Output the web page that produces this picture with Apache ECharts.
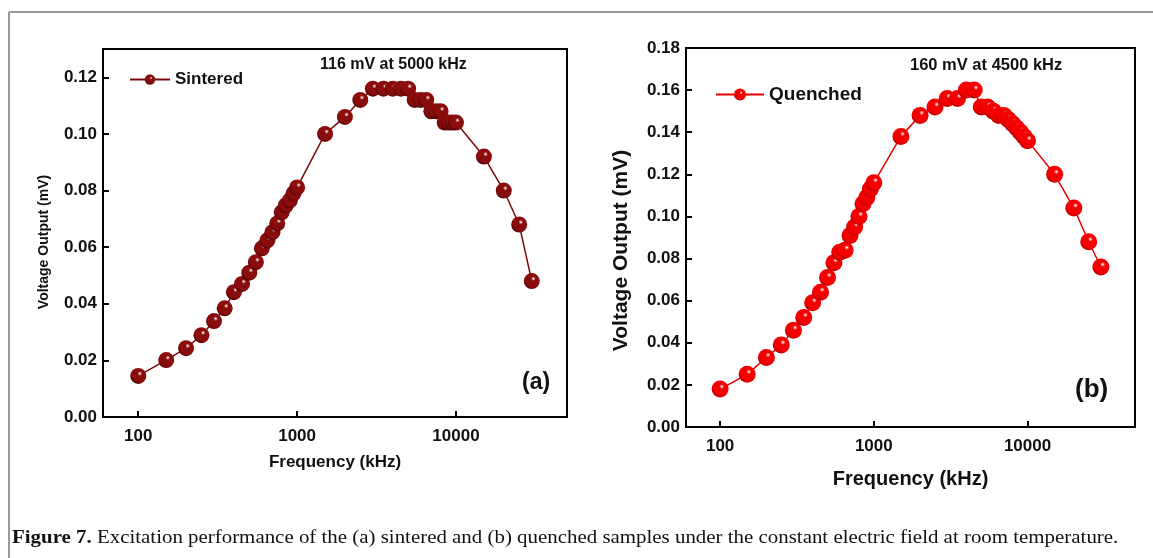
<!DOCTYPE html>
<html>
<head>
<meta charset="utf-8">
<script src="https://cdn.jsdelivr.net/npm/echarts@6/dist/echarts.min.js"></script>
<style>
html,body{margin:0;padding:0;background:#fff;}
#chart{width:1153px;height:558px;}
</style>
</head>
<body>
<div id="chart"></div>
<script>
const freq = [100,150,200,250,300,350,400,450,500,550,600,650,700,750,800,850,900,950,1000,1500,2000,2500,3000,3500,4000,4500,5000,5500,6000,6500,7000,7500,8000,8500,9000,9500,10000,15000,20000,25000,30000];
const sintered = [0.0145,0.0201,0.0243,0.0289,0.0339,0.0384,0.0441,0.047,0.051,0.0547,0.0596,0.0624,0.0653,0.0684,0.0723,0.0748,0.0765,0.079,0.0811,0.100,0.106,0.112,0.116,0.116,0.116,0.116,0.116,0.112,0.112,0.112,0.108,0.108,0.108,0.104,0.104,0.104,0.104,0.092,0.080,0.068,0.048];
const quenched = [0.018,0.025,0.033,0.039,0.046,0.052,0.059,0.064,0.071,0.078,0.083,0.084,0.091,0.095,0.100,0.106,0.109,0.113,0.116,0.138,0.148,0.152,0.156,0.156,0.160,0.160,0.152,0.152,0.150,0.148,0.148,0.146,0.144,0.142,0.140,0.138,0.136,0.120,0.104,0.088,0.076];
const yTicksA = [0, 0.02, 0.04, 0.06, 0.08, 0.10, 0.12];
const yTicksB = [0, 0.02, 0.04, 0.06, 0.08, 0.10, 0.12, 0.14, 0.16, 0.18];
const xTicks = [100, 1000, 10000];
const names = ['Sintered', 'Quenched'];
const peakLabels = ['116 mV at 5000 kHz', '160 mV at 4500 kHz'];
const panelLabels = ['(a)', '(b)'];
const caption = 'Excitation performance of the (a) sintered and (b) quenched samples under the constant electric field at room temperature.';

const chart = echarts.init(document.getElementById('chart'));
const FONT = 'Liberation Sans, Arial, sans-serif';
const SERIF = 'Liberation Serif, Times New Roman, serif';

function sphere(base, dark) {
  return new echarts.graphic.RadialGradient(0.6, 0.35, 0.72, [
    {offset: 0, color: '#ffffff'},
    {offset: 0.2, color: base},
    {offset: 0.7, color: base},
    {offset: 1, color: dark}
  ]);
}

function xAxisDef(idx, labelSize, nameSize, nameGap) {
  return {
    type: 'log', logBase: 10, gridIndex: idx, min: 60, max: 50000,
    name: 'Frequency (kHz)', nameLocation: 'middle', nameGap: nameGap,
    nameTextStyle: {fontFamily: FONT, fontWeight: 'bold', fontSize: nameSize, color: '#111'},
    axisLine: {lineStyle: {color: '#000', width: 2}},
    axisTick: {inside: true, length: 6, lineStyle: {color: '#000', width: 2}},
    minorTick: {show: false},
    splitLine: {show: false},
    axisLabel: {
      fontFamily: FONT, fontWeight: 'bold', fontSize: labelSize, color: '#111', margin: 11,
      showMinLabel: false, showMaxLabel: false,
      formatter: v => xTicks.some(t => Math.abs(t - v) < 1e-6 * t) ? String(Math.round(v)) : ''
    }
  };
}
function yAxisDef(idx, max, ticks, labelSize, nameSize, nameGap, shift) {
  return {
    type: 'value', gridIndex: idx, min: 0, max: max, interval: 0.02,
    name: 'Voltage Output (mV)', nameLocation: 'middle', nameGap: nameGap,
    nameTextStyle: {fontFamily: FONT, fontWeight: 'bold', fontSize: nameSize, color: '#111', padding: [0, shift, 0, 0]},
    axisLine: {show: true, lineStyle: {color: '#000', width: 2}},
    axisTick: {show: true, inside: true, length: 6, lineStyle: {color: '#000', width: 2}},
    splitLine: {show: false},
    axisLabel: {
      fontFamily: FONT, fontWeight: 'bold', fontSize: labelSize, color: '#111', margin: 6,
      formatter: v => ticks.some(t => Math.abs(t - v) < 1e-9) ? v.toFixed(2) : ''
    }
  };
}

const option = {
  animation: false,
  backgroundColor: '#fff',
  grid: [
    {left: 103, right: 586, top: 49, bottom: 141, show: true, borderColor: '#000', borderWidth: 2, containLabel: false},
    {left: 686, right: 18, top: 48, bottom: 131, show: true, borderColor: '#000', borderWidth: 2, containLabel: false}
  ],
  xAxis: [xAxisDef(0, 17, 17, 37), xAxisDef(1, 17, 20, 42)],
  yAxis: [yAxisDef(0, 0.13, yTicksA, 17, 14, 52, 18), yAxisDef(1, 0.18, yTicksB, 17, 21, 54, 26)],
  legend: [
    {data: [names[0]], left: 124, top: 66, itemWidth: 40, itemHeight: 13, itemGap: 6,
     textStyle: {fontFamily: FONT, fontWeight: 'bold', fontSize: 17, color: '#111'}},
    {data: [names[1]], left: 710, top: 80, itemWidth: 48, itemHeight: 15, itemGap: 6,
     textStyle: {fontFamily: FONT, fontWeight: 'bold', fontSize: 19, color: '#111'}}
  ],
  series: [
    {
      name: names[0], type: 'line', xAxisIndex: 0, yAxisIndex: 0,
      data: freq.map((f, i) => [f, sintered[i]]),
      symbol: 'circle', symbolSize: 16, showAllSymbol: true,
      lineStyle: {color: '#7a0a0a', width: 1.5},
      itemStyle: {color: sphere('#8a0c0c', '#400000'), borderWidth: 0},
      z: 3
    },
    {
      name: names[1], type: 'line', xAxisIndex: 1, yAxisIndex: 1,
      data: freq.map((f, i) => [f, quenched[i]]),
      symbol: 'circle', symbolSize: 17, showAllSymbol: true,
      lineStyle: {color: '#e60000', width: 1.5},
      itemStyle: {color: sphere('#f40000', '#a80000'), borderWidth: 0},
      z: 3
    }
  ],
  graphic: [
    {type: 'line', shape: {x1: 9, y1: 12, x2: 9, y2: 558}, style: {stroke: '#9a9a9a', lineWidth: 2}},
    {type: 'line', shape: {x1: 9, y1: 12, x2: 1153, y2: 12}, style: {stroke: '#9a9a9a', lineWidth: 2}},
    {type: 'text', left: 320, top: 57, style: {text: peakLabels[0], font: 'bold 16px ' + FONT, fill: '#111'}},
    {type: 'text', left: 910, top: 57, style: {text: peakLabels[1], font: 'bold 16.5px ' + FONT, fill: '#111'}},
    {type: 'text', left: 522, top: 371, style: {text: panelLabels[0], font: 'bold 23px ' + FONT, fill: '#111'}},
    {type: 'text', left: 1075, top: 377, style: {text: panelLabels[1], font: 'bold 26px ' + FONT, fill: '#111'}},
    {type: 'text', x: 12, y: 529, scaleX: 1.1, style: {
      text: '{b|Figure 7.} ' + caption,
      rich: {
        b: {fontFamily: SERIF, fontWeight: 'bold', fontSize: 19, fill: '#111'}
      },
      fontFamily: SERIF, fontSize: 19, fill: '#111'
    }}
  ]
};
chart.setOption(option);
</script>
</body>
</html>
